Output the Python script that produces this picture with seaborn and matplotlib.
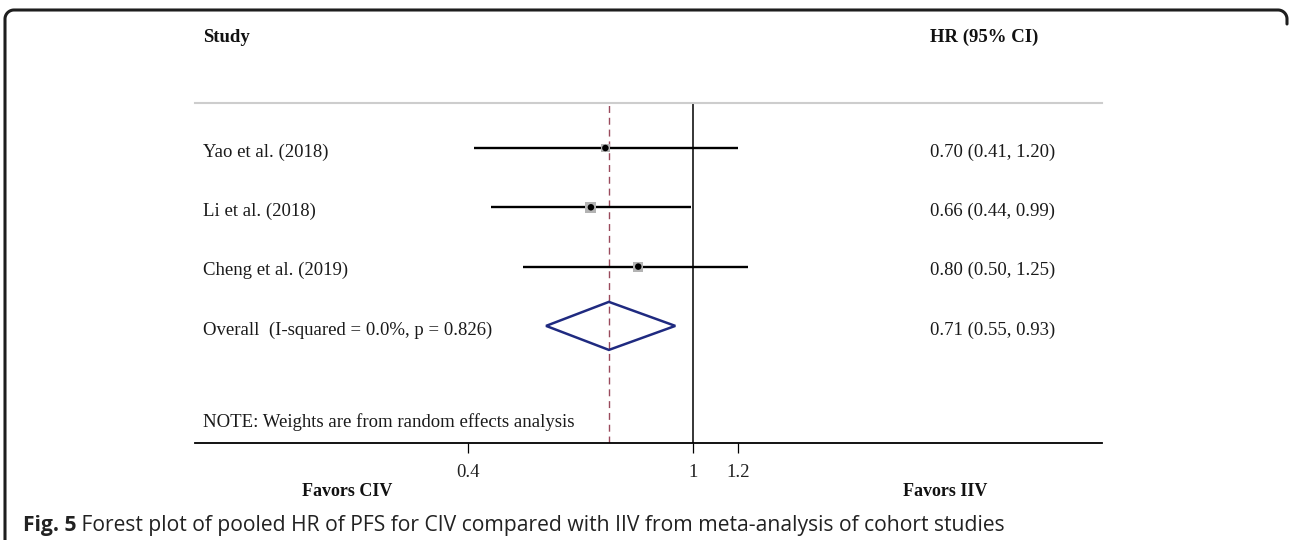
import numpy as np
import pandas as pd
import matplotlib
matplotlib.use("Agg")
import matplotlib.pyplot as plt
import seaborn as sns
from matplotlib.transforms import blended_transform_factory, offset_copy
from matplotlib.patches import Polygon
from matplotlib.lines import Line2D
from matplotlib.ticker import NullLocator, FixedLocator, FixedFormatter

# ---------------- data ----------------
studies = ["Yao et al. (2018)", "Li et al. (2018)", "Cheng et al. (2019)"]
hr = [0.70, 0.66, 0.80]
ci_low = [0.41, 0.44, 0.50]
ci_high = [1.20, 0.99, 1.25]
weights = [24.2, 42.5, 33.3]
hr_labels = ["0.70 (0.41, 1.20)", "0.66 (0.44, 0.99)", "0.80 (0.50, 1.25)"]
overall_label = "Overall  (I-squared = 0.0%, p = 0.826)"
overall_hr = 0.71
overall_low = 0.55
overall_high = 0.93
overall_text = "0.71 (0.55, 0.93)"
note_text = "NOTE: Weights are from random effects analysis"
xticks = [0.4, 1, 1.2]
xtick_labels = ["0.4", "1", "1.2"]
caption_bold = "Fig. 5"
caption_rest = " Forest plot of pooled HR of PFS for CIV compared with IIV from meta-analysis of cohort studies"

rows = [1, 2, 3]
overall_row = 4

df = pd.DataFrame({"study": studies, "hr": hr, "lo": ci_low, "hi": ci_high,
                   "weight": weights, "row": rows})

# ---------------- style ----------------
sns.set_theme(style="white")
plt.rcParams["font.family"] = ["Liberation Serif", "DejaVu Serif"]

W, H = 1289, 540
fig = plt.figure(figsize=(W / 100, H / 100), dpi=100)
fig.patch.set_facecolor("white")

def fx(px):
    return px / W

def fy(py):
    return 1 - py / H

ax_left, ax_right, ax_top, ax_bottom = 195, 1102, 103, 443
ax = fig.add_axes([fx(ax_left), fy(ax_bottom), fx(ax_right - ax_left), (ax_bottom - ax_top) / H])
ax.set_facecolor("white")
ax.set_xscale("log")
ax.set_xlim(0.132, 5.27)
ax.set_ylim(5.975, 0.241)

# CI lines
ax.hlines(df["row"], df["lo"], df["hi"], color="black", lw=1.7, zorder=3)

# reference lines
ax.axvline(1, color="black", lw=1.1, zorder=2)
ax.axvline(overall_hr, color="#9a4a5c", lw=1.0, ls=(0, (5, 3.5)), zorder=2)

# weight squares
sns.scatterplot(data=df, x="hr", y="row", size="weight", sizes=(38, 64),
                marker="s", color="#b3b3b3", edgecolor="none", legend=False,
                ax=ax, zorder=4)
# point estimates
sns.scatterplot(data=df, x="hr", y="row", marker="o", color="black", s=22,
                edgecolor="none", legend=False, ax=ax, zorder=5)

# overall diamond
dh = 0.405
diamond = Polygon([(overall_low, overall_row), (overall_hr, overall_row - dh),
                   (overall_high, overall_row), (overall_hr, overall_row + dh)],
                  closed=True, fill=False, edgecolor="#1f2a80", lw=1.8, zorder=4)
ax.add_patch(diamond)

# spines / ticks
for s in ["left", "right"]:
    ax.spines[s].set_visible(False)
ax.spines["top"].set_color("#cdcdcd")
ax.spines["top"].set_linewidth(1.5)
ax.spines["bottom"].set_color("black")
ax.spines["bottom"].set_linewidth(1.3)
ax.xaxis.set_major_locator(FixedLocator(xticks))
ax.xaxis.set_major_formatter(FixedFormatter(xtick_labels))
ax.xaxis.set_minor_locator(NullLocator())
ax.set_yticks([])
ax.tick_params(axis="x", which="major", direction="out", length=7, width=0.9,
               color="black", pad=8, labelsize=13.5, labelcolor="#222222", bottom=True)
ax.set_xlabel("")
ax.set_ylabel("")
ax.grid(False)

# ---------------- texts ----------------
fs = 13.5
trans = blended_transform_factory(fig.transFigure, ax.transData)
trans_t = offset_copy(trans, fig=fig, x=0, y=-4, units="dots")
for lab, hl, r in zip(studies, hr_labels, rows):
    ax.text(fx(203), r, lab, transform=trans_t, ha="left", va="center", fontsize=fs, color="#1a1a1a")
    ax.text(fx(930), r, hl, transform=trans_t, ha="left", va="center", fontsize=fs, color="#1a1a1a")
ax.text(fx(203), overall_row, overall_label, transform=trans_t, ha="left", va="center", fontsize=fs, color="#1a1a1a")
ax.text(fx(930), overall_row, overall_text, transform=trans_t, ha="left", va="center", fontsize=fs, color="#1a1a1a")

fig.text(fx(203), fy(422), note_text, ha="left", va="center", fontsize=fs, color="#1a1a1a")
fig.text(fx(203), fy(37), "Study", ha="left", va="center", fontsize=fs, fontweight="bold", color="#111111")
fig.text(fx(930), fy(37), "HR (95% CI)", ha="left", va="center", fontsize=fs, fontweight="bold", color="#111111")
fig.text(fx(347), fy(491), "Favors CIV", ha="center", va="center", fontsize=13, fontweight="bold", color="#111111")
fig.text(fx(945), fy(491), "Favors IIV", ha="center", va="center", fontsize=13, fontweight="bold", color="#111111")

# caption
cap_fs = 15.2
t1 = fig.text(fx(23), fy(525), caption_bold, ha="left", va="center", fontsize=cap_fs,
              fontweight="bold", family=["Open Sans", "DejaVu Sans"], color="#222222")
renderer = fig.canvas.get_renderer()
bb = t1.get_window_extent(renderer=renderer)
fig.text(bb.x1 / W, fy(525), caption_rest, ha="left", va="center", fontsize=cap_fs,
         family=["Open Sans", "DejaVu Sans"], color="#222222")

# ---------------- frame ----------------
r = 9
theta = np.linspace(np.pi, np.pi / 2, 20)
left_arc_x = 5 + r + r * np.cos(theta)
left_arc_y = 10 + r - r * np.sin(theta)
theta2 = np.linspace(np.pi / 2, 0, 20)
right_arc_x = 1278 + r * np.cos(theta2)
right_arc_y = 10 + r - r * np.sin(theta2)
px = np.concatenate([[5], left_arc_x, right_arc_x, [1287]])
py = np.concatenate([[545], left_arc_y, right_arc_y, [24]])
fig.add_artist(Line2D(fx(px), fy(py), transform=fig.transFigure, color="#1e1e1e", lw=2.2))

fig.savefig("out.png", dpi=100, facecolor="white")
